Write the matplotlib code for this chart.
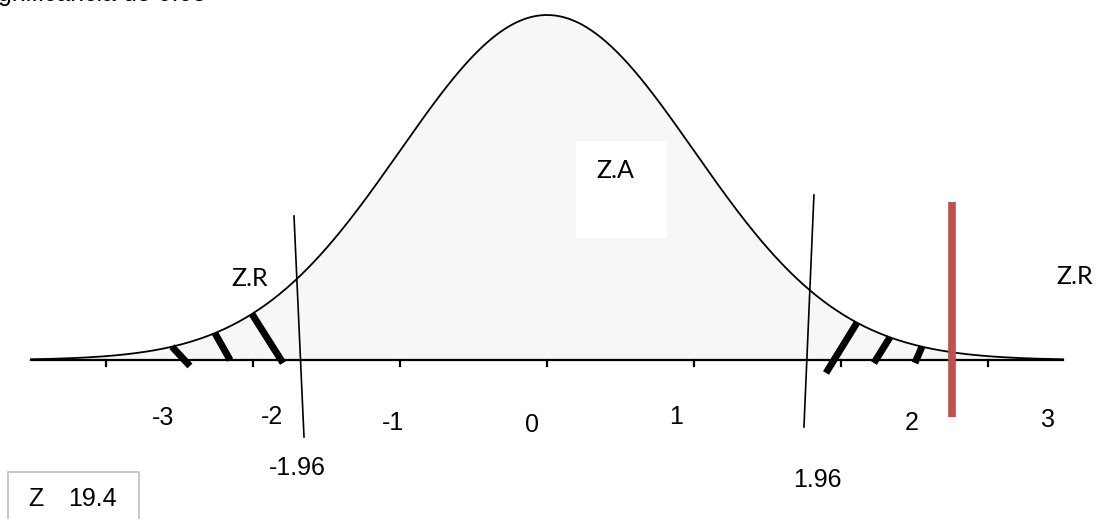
import numpy as np
import matplotlib
matplotlib.use('Agg')
import matplotlib.pyplot as plt
from matplotlib.patches import Rectangle

# Datos de la curva normal estandar
z_min, z_max = -3.51, 3.51
ticks = [-3, -2, -1, 0, 1, 2, 3]
tick_labels = ['-3', '-2', '-1', '0', '1', '2', '3']
# posiciones de las etiquetas (dibujadas a mano en el original)
label_x = [-2.61, -1.87, -1.05, -0.10, 0.88, 2.48, 3.41]
label_y = [-0.067, -0.066, -0.073, -0.075, -0.066, -0.073, -0.069]

z_crit = [-1.96, 1.96]
crit_labels = ['-1.96', '1.96']
z_calc = 2.755          # linea roja
z_value = '19.4'

# marcas de la zona de rechazo (z arriba en la curva, z abajo)
hatch_top = [-2.551, -2.259, -2.007, 2.109, 2.333, 2.551]
hatch_bot = [-2.429, -2.156, -1.796, 1.898, 2.224, 2.503]
hatch_bot_y = [-0.0069, 0.0, -0.0035, -0.015, -0.0035, -0.0035]

fs = 18


def pdf(z):
    return np.exp(-z ** 2 / 2) / np.sqrt(2 * np.pi)


z = np.linspace(z_min, z_max, 600)
y = pdf(z)

fig = plt.figure(figsize=(11.1, 5.19), dpi=100)
ax = fig.add_axes([0, 0, 1, 1])
ax.set_xlim(-3.721, 3.830)
ax.set_ylim(-0.18387, 0.4163)
ax.axis('off')

# area bajo la curva
ax.fill_between(z, 0, y, color='#f7f7f7', zorder=1)
ax.plot(z, y, color='black', lw=1.3, zorder=3)

# eje horizontal
ax.plot([z_min, z_max], [0, 0], color='black', lw=1.6, zorder=4)
for t in ticks:
    ax.plot([t, t], [0, -0.0069], color='black', lw=1.6, zorder=4)
for lx, ly, s in zip(label_x, label_y, tick_labels):
    ax.text(lx, ly, s, ha='center', va='center', fontsize=fs,
            family='Liberation Sans')

# lineas de los valores criticos (algo inclinadas)
ax.plot([-1.721, -1.653], [0.1665, -0.089], color='black', lw=1.2, zorder=5)
ax.plot([1.816, 1.748], [0.1908, -0.0775], color='black', lw=1.2, zorder=5)
ax.text(-1.70, -0.1249, crit_labels[0], ha='center', va='center',
        fontsize=fs, family='Liberation Sans')
ax.text(1.84, -0.1388, crit_labels[1], ha='center', va='center',
        fontsize=fs, family='Liberation Sans')

# marcas gruesas en las colas
for zt, zb, yb in zip(hatch_top, hatch_bot, hatch_bot_y):
    ax.plot([zt, zb], [pdf(zt), yb], color='black', lw=5,
            solid_capstyle='butt', zorder=6)

# valor calculado
ax.plot([z_calc, z_calc], [0.1827, -0.0659], color='#c0504d', lw=5.5,
        solid_capstyle='butt', zorder=7)

# zonas
ax.text(-2.02, 0.0948, 'Z.R', ha='center', va='center', fontsize=fs,
        family='Lato')
ax.text(3.59, 0.096, 'Z.R', ha='center', va='center', fontsize=fs,
        family='Lato')
ax.add_patch(Rectangle((0.197, 0.1411), 0.619, 0.1122, facecolor='white',
                       edgecolor='none', zorder=2))
ax.text(0.463, 0.2186, 'Z.A', ha='center', va='center', fontsize=fs,
        family='Lato', zorder=3)

# cuadro con el valor de Z
fig.patches.append(Rectangle((8 / 1110, -0.02), 131 / 1110, 57.4 / 519,
                             transform=fig.transFigure, facecolor='white',
                             edgecolor='#bfbfbf', lw=1.2))
fig.text(36 / 1110, 1 - 499 / 519, 'Z', ha='center', va='center',
         fontsize=fs, family='Liberation Sans')
fig.text(92 / 1110, 1 - 499 / 519, z_value, ha='center', va='center',
         fontsize=fs, family='Liberation Sans')

# texto cortado arriba (como en el original)
fig.text(-20 / 1110, 1 - 1 / 519, 'significancia de 0.05', ha='left',
         va='baseline', fontsize=fs, family='Liberation Sans')

fig.savefig('out.png', dpi=100)
